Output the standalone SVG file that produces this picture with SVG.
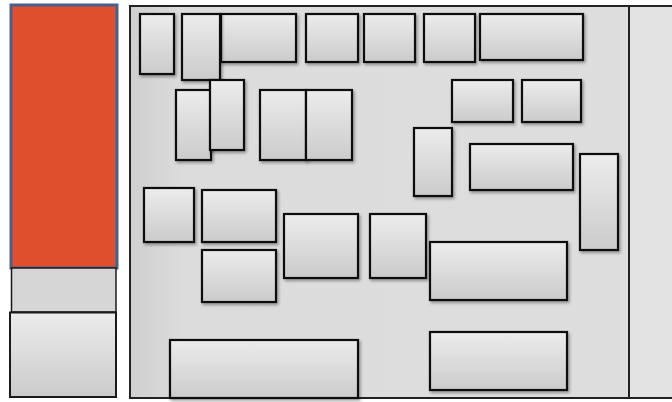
<svg xmlns="http://www.w3.org/2000/svg" width="672" height="402" viewBox="0 0 672 402">
<defs>
<linearGradient id="bx" x1="0" y1="0" x2="0" y2="1">
<stop offset="0" stop-color="#ececec"/>
<stop offset="1" stop-color="#cbcbcb"/>
</linearGradient>
<linearGradient id="pn" x1="0" y1="0" x2="1" y2="0">
<stop offset="0" stop-color="#cfcfcf"/>
<stop offset="0.1" stop-color="#dcdcdc"/>
<stop offset="1" stop-color="#dedede"/>
</linearGradient>
<filter id="sh" x="-20%" y="-20%" width="150%" height="150%">
<feDropShadow dx="1.5" dy="2" stdDeviation="1.5" flood-color="#000" flood-opacity="0.35"/>
</filter>
</defs>
<style>
.b{fill:url(#bx);stroke:#111;stroke-width:2.2;filter:url(#sh)}
.p{stroke:#222;stroke-width:2}
</style>
<rect width="672" height="402" fill="#ffffff"/>
<g id="left">
<rect id="red" x="11" y="5" width="106" height="263" fill="#df4f2e" stroke="#46618c" stroke-width="3"/>
<rect id="gray" x="11.5" y="268" width="104.5" height="44" fill="#d6d6d6" stroke="#1a1a1a" stroke-width="1.5"/>
<rect id="lower" x="10" y="312.5" width="106" height="84.5" fill="url(#bx)" stroke="#1a1a1a" stroke-width="2"/>
</g>
<g id="panel">
<rect x="130" y="6" width="545" height="392" fill="url(#pn)" class="p"/>
<rect x="629" y="7" width="44" height="390" fill="#e3e3e3"/>
<line x1="629" y1="6" x2="629" y2="398" class="p"/>
</g>
<g id="nodes">
<rect id="n1" class="b" x="140" y="14" width="34" height="60"/>
<rect id="n3" class="b" x="221" y="14" width="75" height="48"/>
<rect id="n2" class="b" x="182" y="14" width="38" height="66"/>
<rect id="n4" class="b" x="306" y="14" width="52" height="48"/>
<rect id="n5" class="b" x="364" y="14" width="51" height="48"/>
<rect id="n6" class="b" x="424" y="14" width="51" height="48"/>
<rect id="n7" class="b" x="480" y="14" width="103" height="46"/>
<rect id="n8" class="b" x="176" y="90" width="35" height="70"/>
<rect id="n9" class="b" x="210" y="80" width="34" height="70"/>
<rect id="n10" class="b" x="260" y="90" width="46" height="70"/>
<rect id="n11" class="b" x="306" y="90" width="46" height="70"/>
<rect id="n12" class="b" x="452" y="80" width="61" height="42"/>
<rect id="n13" class="b" x="522" y="80" width="59" height="42"/>
<rect id="n14" class="b" x="414" y="128" width="38" height="68"/>
<rect id="n15" class="b" x="470" y="144" width="103" height="46"/>
<rect id="n16" class="b" x="580" y="154" width="38" height="96"/>
<rect id="n17" class="b" x="144" y="188" width="50" height="54"/>
<rect id="n18" class="b" x="202" y="190" width="74" height="52"/>
<rect id="n19" class="b" x="202" y="250" width="74" height="52"/>
<rect id="n20" class="b" x="284" y="214" width="74" height="64"/>
<rect id="n21" class="b" x="370" y="214" width="56" height="64"/>
<rect id="n22" class="b" x="430" y="242" width="137" height="58"/>
<rect id="n23" class="b" x="170" y="340" width="188" height="58"/>
<rect id="n24" class="b" x="430" y="332" width="137" height="58"/>
</g>
<g id="connectors"></g>
</svg>
